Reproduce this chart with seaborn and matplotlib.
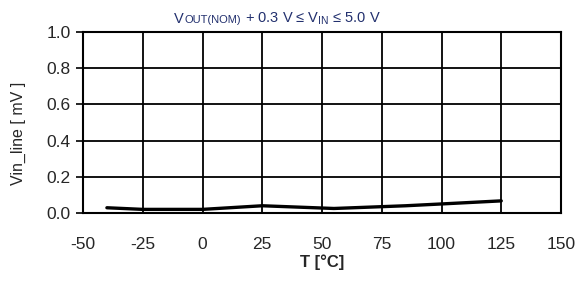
import matplotlib
matplotlib.use("Agg")
import matplotlib.pyplot as plt
import seaborn as sns
import pandas as pd
from matplotlib.offsetbox import TextArea, HPacker, AnchoredOffsetbox

temps = [-40, -25, 0, 25, 55, 85, 100, 125]
vin_line = [0.029, 0.02, 0.02, 0.04, 0.025, 0.04, 0.05, 0.067]
xticks = [-50, -25, 0, 25, 50, 75, 100, 125, 150]
yticks = [0.0, 0.2, 0.4, 0.6, 0.8, 1.0]

sns.set_style("white")
plt.rcParams['font.family'] = ['Liberation Sans', 'DejaVu Sans']

df = pd.DataFrame({"T": temps, "v": vin_line})
fig = plt.figure(figsize=(5.79, 2.87), dpi=100)
ax = fig.add_axes([83/579, 1-213/287, (561-83)/579, (213-32)/287])
sns.lineplot(data=df, x="T", y="v", ax=ax, color="black", linewidth=2.4)

ax.set_xlim(-50, 150)
ax.set_ylim(0, 1.0)
ax.set_xticks(xticks)
ax.set_yticks(yticks)
ax.set_xticklabels([str(t) for t in xticks], fontsize=12.5)
ax.set_yticklabels([f"{t:.1f}" for t in yticks], fontsize=12.5)
ax.grid(True, color="black", linewidth=1.3)
for s in ax.spines.values():
    s.set_color("black")
    s.set_linewidth(1.5)
ax.tick_params(axis="y", length=5, width=1.2, color="black", pad=4, left=True)
ax.tick_params(axis="x", length=0, pad=17)
ax.set_xlabel("T [°C]", fontsize=12, fontweight="bold", labelpad=2)
ax.set_ylabel("Vin_line [ mV ]", fontsize=11.5)
ax.yaxis.set_label_coords((26 - 83) / 478, (213 - 133) / 181)

navy = "#22306e"
areas = [
    TextArea("V", textprops=dict(fontsize=10.5, color=navy)),
    TextArea("OUT(NOM)", textprops=dict(fontsize=8, color=navy)),
    TextArea(r" + 0.3 V ≤ V$_\mathregular{IN}$ ≤ 5.0 V", textprops=dict(fontsize=10.5, color=navy)),
]
box = HPacker(children=areas, align="baseline", pad=0, sep=0)
anch = AnchoredOffsetbox(loc="center", child=box, frameon=False,
                         bbox_to_anchor=(277.5/579, 1-19/287), bbox_transform=fig.transFigure,
                         pad=0, borderpad=0)
fig.add_artist(anch)

fig.savefig("out.png", dpi=100)
